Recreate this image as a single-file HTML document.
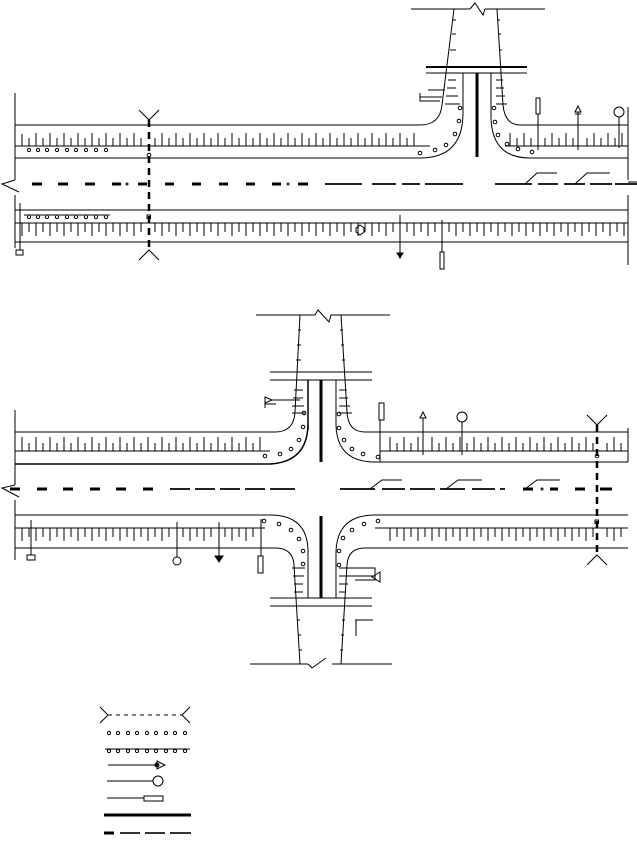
<!DOCTYPE html>
<html><head><meta charset="utf-8"><style>html,body{margin:0;padding:0;background:#fff}svg{display:block}</style></head>
<body>
<svg width="637" height="842" viewBox="0 0 637 842" xmlns="http://www.w3.org/2000/svg" fill="none" stroke="#000" stroke-width="1">
<defs>
<pattern id="tu" x="15" y="0" width="14" height="842" patternUnits="userSpaceOnUse">
<line x1="2" y1="0" x2="2" y2="842" stroke="#000"/>
</pattern>
</defs>
<style>.t{stroke:#000;stroke-width:1}</style>

<!-- ============ TOP SECTION ============ -->
<line x1="15" y1="93" x2="15" y2="180"/>
<path d="M15,180 L2,184 L19,192"/>
<line x1="15" y1="195" x2="15" y2="248"/>
<!-- upper road -->
<path d="M15,125 H420 Q440,125 442,105 L454,9"/>
<path d="M15,158 H420 Q462,158 463,115 V73"/>
<line x1="15" y1="146" x2="430" y2="146"/>
<path d="M628,125 H520 Q505,125 503,105 L497,9"/>
<path d="M491,73 V118 Q492,158 530,158 H628"/>
<line x1="505" y1="146" x2="628" y2="146"/>
<line x1="628" y1="107" x2="628" y2="180"/>
<line x1="628" y1="182" x2="637" y2="182"/>
<g id="ticksA" class="t"></g>
<!-- top road/intersection -->
<line x1="411" y1="9" x2="470" y2="9"/><path d="M470,9 L475,3 L483,15 L485,9 H545"/>
<line x1="426" y1="67" x2="527" y2="67" stroke-width="2"/>
<line x1="426" y1="73" x2="527" y2="73"/>
<line x1="477" y1="73" x2="477" y2="157" stroke-width="3"/>
<!-- hatch in tapers -->
<g stroke-width="1">
<line x1="453" y1="20" x2="456" y2="20"/><line x1="452" y1="34" x2="456" y2="34"/><line x1="450" y1="50" x2="456" y2="50"/>
<line x1="448" y1="80" x2="456" y2="80"/><line x1="447" y1="88" x2="456" y2="88"/><line x1="446" y1="96" x2="458" y2="96"/><line x1="445" y1="104" x2="460" y2="104"/>
<line x1="497" y1="20" x2="500" y2="20"/><line x1="498" y1="34" x2="501" y2="34"/><line x1="499" y1="50" x2="502" y2="50"/>
<line x1="496" y1="80" x2="503" y2="80"/><line x1="496" y1="88" x2="504" y2="88"/><line x1="496" y1="96" x2="505" y2="96"/><line x1="496" y1="104" x2="507" y2="104"/>
</g>
<path d="M420,93 V101 H440 M420,97 H442 M428,90 H445"/>
<!-- dots -->
<g stroke-width="1">
<circle cx="460" cy="108" r="1.8"/><circle cx="459" cy="121" r="1.8"/><circle cx="455" cy="134" r="1.8"/><circle cx="446" cy="145" r="1.8"/><circle cx="435" cy="150" r="1.8"/><circle cx="420" cy="153" r="1.8"/>
<circle cx="494" cy="108" r="1.8"/><circle cx="495" cy="122" r="1.8"/><circle cx="498" cy="135" r="1.8"/><circle cx="507" cy="144" r="1.8"/><circle cx="518" cy="149" r="1.8"/><circle cx="532" cy="152" r="1.8"/>
<circle cx="29" cy="150" r="1.6"/><circle cx="38" cy="150" r="1.6"/><circle cx="47" cy="150" r="1.6"/><circle cx="57" cy="150" r="1.6"/><circle cx="67" cy="150" r="1.6"/><circle cx="76" cy="150" r="1.6"/><circle cx="86" cy="150" r="1.6"/><circle cx="96" cy="150" r="1.6"/><circle cx="106" cy="150" r="1.6"/>
<circle cx="29" cy="217" r="1.6"/><circle cx="38" cy="217" r="1.6"/><circle cx="47" cy="217" r="1.6"/><circle cx="57" cy="217" r="1.6"/><circle cx="67" cy="217" r="1.6"/><circle cx="76" cy="217" r="1.6"/><circle cx="86" cy="217" r="1.6"/><circle cx="96" cy="217" r="1.6"/><circle cx="106" cy="217" r="1.6"/>
</g>
<line x1="24" y1="215" x2="110" y2="215" stroke-width="1.5" stroke="#555"/>
<!-- top signs -->
<rect x="536" y="98" width="4" height="16"/><line x1="538" y1="114" x2="538" y2="150"/>
<path d="M575,112 L578,106 L581,112 Z"/><line x1="578" y1="112" x2="578" y2="150"/><line x1="575" y1="114" x2="581" y2="114"/>
<circle cx="619" cy="112" r="5"/><line x1="619" y1="117" x2="619" y2="148"/>
<!-- centerline top -->
<g stroke-width="3">
<path d="M32,184 H42 M58,184 H68 M85,184 H95 M112,184 H121 M138,184 H147 M165,184 H174 M192,184 H201 M219,184 H228 M246,184 H255 M272,184 H281 M298,184 H308" />
</g>
<circle cx="127" cy="184" r="1"/><circle cx="288" cy="184" r="1"/>
<g stroke-width="2" stroke="#222">
<path d="M325,184 H362 M372,184 H396 M402,184 H420 M425,184 H463 M495,184 H532 M538,184 H558 M564,184 H585 M590,184 H612 M615,184 H637"/>
</g>
<path d="M525,184 L537,173 H557 M575,184 L587,173 H610"/>
<!-- lower road top section -->
<line x1="15" y1="210" x2="628" y2="210"/>
<line x1="15" y1="223" x2="628" y2="223"/>
<line x1="15" y1="242" x2="628" y2="242"/>
<line x1="628" y1="195" x2="628" y2="265"/>
<line x1="20" y1="203" x2="20" y2="250"/><rect x="16" y="250" width="7" height="5"/>
<!-- ticks upper road top -->
<path stroke-width="1" d="
M22,134V146 M29,138V146 M36,133V146 M43,138V146 M50,133V146 M57,138V146 M64,133V146 M71,138V146 M78,133V146 M85,138V146 M92,133V146 M99,138V146 M106,133V146 M113,138V146 M120,133V146 M127,138V146 M134,133V146 M141,138V146 M155,138V146 M162,133V146 M169,138V146 M176,133V146 M183,138V146 M190,133V146 M197,138V146 M204,133V146 M211,138V146 M218,133V146 M225,138V146 M232,133V146 M239,138V146 M246,133V146 M253,138V146 M260,133V146 M267,138V146 M274,133V146 M281,138V146 M288,133V146 M295,138V146 M302,133V146 M309,138V146 M316,133V146 M323,138V146 M330,133V146 M337,138V146 M344,133V146 M351,138V146 M358,133V146 M365,138V146 M372,133V146 M379,138V146 M386,133V146 M393,138V146 M400,133V146 M407,138V146 M414,133V146
M510,133V146 M517,138V146 M524,133V146 M531,138V146 M545,138V146 M552,133V146 M559,138V146 M566,133V146 M573,138V146 M587,138V146 M594,133V146 M601,138V146 M608,133V146 M615,138V146 M622,133V146"/>
<!-- ticks lower road top section -->
<path stroke-width="1" d="
M22,223V236 M29,223V232 M36,223V236 M43,223V232 M50,223V236 M57,223V232 M64,223V236 M71,223V232 M78,223V236 M85,223V232 M92,223V236 M99,223V232 M106,223V236 M113,223V232 M120,223V236 M127,223V232 M134,223V236 M141,223V232 M155,223V232 M162,223V236 M169,223V232 M176,223V236 M183,223V232 M190,223V236 M197,223V232 M204,223V236 M211,223V232 M218,223V236 M225,223V232 M232,223V236 M239,223V232 M246,223V236 M253,223V232 M260,223V236 M267,223V232 M274,223V236 M281,223V232 M288,223V236 M295,223V232 M302,223V236 M309,223V232 M316,223V236 M323,223V232 M330,223V236 M337,223V232 M344,223V236 M351,223V232 M358,223V236 M365,223V232 M372,223V236 M379,223V232 M386,223V236 M393,223V232 M407,223V232 M414,223V236 M421,223V232 M428,223V236 M435,223V232 M449,223V232 M456,223V236 M463,223V232 M470,223V236 M477,223V232 M484,223V236 M491,223V232 M498,223V236 M505,223V232 M512,223V236 M519,223V232 M526,223V236 M533,223V232 M540,223V236 M547,223V232 M554,223V236 M561,223V232 M568,223V236 M575,223V232 M582,223V236 M589,223V232 M596,223V236 M603,223V232 M610,223V236 M617,223V232 M624,223V236"/>
<!-- vertical dashed top -->
<line x1="149" y1="120" x2="149" y2="250" stroke-width="2.5" stroke-dasharray="7,5"/>
<path d="M139,110 L149,120 L159,110 M139,260 L149,250 L159,260"/>
<circle cx="149" cy="155" r="1.8"/><rect x="147" y="215" width="3.5" height="3.5"/>
<!-- lower signs top section -->
<path d="M356,228 L360,225 L364,228 L364,232 L360,235 L356,232 Z"/>
<line x1="400" y1="215" x2="400" y2="254"/><path d="M397,253 H403 L400,258 Z" fill="#000"/>
<line x1="442" y1="220" x2="442" y2="252"/><rect x="440" y="252" width="4" height="17"/>

<!-- ============ BOTTOM SECTION ============ -->
<line x1="256" y1="315" x2="315" y2="315"/><path d="M315,315 L318,310 L329,322 L331,315 H390"/>
<line x1="270" y1="372" x2="372" y2="372"/>
<line x1="270" y1="380" x2="372" y2="380"/>
<line x1="321" y1="380" x2="321" y2="462" stroke-width="3"/>
<line x1="308" y1="380" x2="308" y2="430" stroke-width="1.5"/>
<path d="M15,432 H275 Q294,432 295,412 L300,315"/>
<path d="M15,464 H270 Q307,462 308,425" stroke-width="1.5"/>
<line x1="15" y1="464" x2="270" y2="464" stroke-width="2" stroke="#444"/>
<line x1="15" y1="451" x2="270" y2="451"/>
<path d="M628,432 H365 Q348,432 347,412 L341,315"/>
<path d="M336,380 V425 Q337,462 375,462 H628"/>
<line x1="380" y1="451" x2="628" y2="451"/>
<line x1="628" y1="428" x2="628" y2="462"/>
<line x1="15" y1="410" x2="15" y2="485"/>
<path d="M15,485 L2,488 L19,497"/>
<line x1="15" y1="500" x2="15" y2="560"/>
<!-- lower -->
<path d="M15,548 H275 Q293,548 294,565 L300,664"/>
<path d="M15,515 H270 Q307,515 308,550 V598"/>
<line x1="15" y1="528" x2="265" y2="528"/>
<path d="M628,548 H365 Q348,548 347,565 L341,664"/>
<path d="M336,598 V552 Q337,515 375,515 H628"/>
<line x1="375" y1="528" x2="628" y2="528"/>
<line x1="321" y1="516" x2="321" y2="598" stroke-width="3"/>
<line x1="270" y1="598" x2="372" y2="598"/>
<line x1="270" y1="606" x2="372" y2="606"/>
<line x1="250" y1="664" x2="308" y2="664"/><path d="M308,664 L312,668 L326,658 M332,664 H392"/>
<path d="M355,620 H373 M356,620 V636"/>
<path d="M340,568 H375 V580 H355 M342,576 H375"/><path d="M372,577 L380,572 L380,582 Z"/>
<path d="M265,397 L272,400 L265,403 Z M265,408 V404 H276 M272,400 H300"/>
<!-- hatch bottom -->
<g>
<line x1="298" y1="330" x2="301" y2="330"/><line x1="297" y1="345" x2="301" y2="345"/><line x1="296" y1="360" x2="301" y2="360"/>
<line x1="294" y1="390" x2="303" y2="390"/><line x1="293" y1="398" x2="303" y2="398"/><line x1="292" y1="406" x2="304" y2="406"/><line x1="292" y1="413" x2="305" y2="413"/>
<line x1="340" y1="330" x2="343" y2="330"/><line x1="341" y1="345" x2="344" y2="345"/><line x1="342" y1="360" x2="345" y2="360"/>
<line x1="339" y1="390" x2="347" y2="390"/><line x1="339" y1="398" x2="348" y2="398"/><line x1="339" y1="406" x2="350" y2="406"/><line x1="339" y1="413" x2="352" y2="413"/>
<line x1="292" y1="568" x2="305" y2="568"/><line x1="293" y1="576" x2="304" y2="576"/><line x1="294" y1="584" x2="303" y2="584"/><line x1="294" y1="592" x2="303" y2="592"/>
<line x1="297" y1="620" x2="300" y2="620"/><line x1="298" y1="635" x2="301" y2="635"/><line x1="299" y1="650" x2="302" y2="650"/>
<line x1="339" y1="568" x2="352" y2="568"/><line x1="339" y1="576" x2="350" y2="576"/><line x1="339" y1="584" x2="348" y2="584"/><line x1="339" y1="592" x2="346" y2="592"/>
<line x1="342" y1="620" x2="345" y2="620"/><line x1="341" y1="635" x2="344" y2="635"/><line x1="340" y1="650" x2="343" y2="650"/>
</g>
<g>
<circle cx="304" cy="413" r="1.8"/><circle cx="303" cy="427" r="1.8"/><circle cx="299" cy="440" r="1.8"/><circle cx="291" cy="449" r="1.8"/><circle cx="280" cy="454" r="1.8"/><circle cx="265" cy="456" r="1.8"/>
<circle cx="339" cy="414" r="1.8"/><circle cx="339" cy="428" r="1.8"/><circle cx="344" cy="440" r="1.8"/><circle cx="352" cy="449" r="1.8"/><circle cx="363" cy="454" r="1.8"/><circle cx="378" cy="457" r="1.8"/>
<circle cx="264" cy="521" r="1.8"/><circle cx="279" cy="524" r="1.8"/><circle cx="291" cy="530" r="1.8"/><circle cx="299" cy="539" r="1.8"/><circle cx="303" cy="551" r="1.8"/><circle cx="303" cy="564" r="1.8"/>
<circle cx="378" cy="521" r="1.8"/><circle cx="364" cy="524" r="1.8"/><circle cx="352" cy="530" r="1.8"/><circle cx="343" cy="538" r="1.8"/><circle cx="339" cy="551" r="1.8"/><circle cx="339" cy="565" r="1.8"/>
</g>
<!-- ticks bottom upper -->
<path d="
M22,437V451 M29,443V451 M36,437V451 M43,443V451 M50,437V451 M57,443V451 M64,437V451 M71,443V451 M78,437V451 M85,443V451 M92,437V451 M99,443V451 M106,437V451 M113,443V451 M120,437V451 M127,443V451 M134,437V451 M141,443V451 M148,437V451 M155,443V451 M162,437V451 M169,443V451 M176,437V451 M183,443V451 M190,437V451 M197,443V451 M204,437V451 M211,443V451 M218,437V451 M225,443V451 M232,437V451 M239,443V451 M246,437V451 M253,443V451 M260,437V451
M390,437V451 M397,443V451 M404,437V451 M411,443V451 M418,437V451 M432,437V451 M439,443V451 M446,437V451 M453,443V451 M460,437V451 M467,443V451 M474,437V451 M481,443V451 M488,437V451 M495,443V451 M502,437V451 M509,443V451 M516,437V451 M523,443V451 M530,437V451 M537,443V451 M544,437V451 M551,443V451 M558,437V451 M565,443V451 M572,437V451 M579,443V451 M586,437V451 M593,443V451 M607,443V451 M614,437V451 M621,443V451"/>
<path d="
M22,528V541 M29,528V537 M36,528V541 M43,528V537 M50,528V541 M57,528V537 M64,528V541 M71,528V537 M78,528V541 M85,528V537 M92,528V541 M99,528V537 M106,528V541 M113,528V537 M120,528V541 M127,528V537 M134,528V541 M141,528V537 M148,528V541 M155,528V537 M162,528V541 M169,528V537 M183,528V537 M190,528V541 M197,528V537 M204,528V541 M211,528V537 M225,528V537 M232,528V541 M239,528V537 M246,528V541 M253,528V537
M390,528V541 M397,528V537 M404,528V541 M411,528V537 M418,528V541 M425,528V537 M432,528V541 M439,528V537 M446,528V541 M453,528V537 M460,528V541 M467,528V537 M474,528V541 M481,528V537 M488,528V541 M495,528V537 M502,528V541 M509,528V537 M516,528V541 M523,528V537 M530,528V541 M537,528V537 M544,528V541 M551,528V537 M558,528V541 M565,528V537 M572,528V541 M579,528V537 M586,528V541 M593,528V537 M607,528V537 M614,528V541 M621,528V537"/>
<!-- centerline bottom -->
<path stroke-width="3" d="M10,489 H20 M37,489 H47 M63,489 H73 M90,489 H100 M116,489 H126 M143,489 H153"/>
<path stroke-width="2" stroke="#222" d="M170,489 H190 M195,489 H215 M220,489 H240 M245,489 H265 M270,489 H295 M340,489 H375 M382,489 H405 M410,489 H435 M440,489 H465 M472,489 H495 M500,489 H505"/>
<path stroke-width="3" d="M523,489 H533 M550,489 H558 M575,489 H585 M600,489 H612"/>
<circle cx="542" cy="489" r="1"/>
<path d="M370,489 L382,480 H402 M446,489 L458,480 H482 M525,489 L537,480 H560"/>
<line x1="380" y1="420" x2="380" y2="462"/><rect x="379" y="403" width="5" height="17"/>
<path d="M420,418 L423,412 L426,418 Z"/><line x1="423" y1="418" x2="423" y2="455"/>
<circle cx="462" cy="417" r="5"/><line x1="462" y1="422" x2="462" y2="455"/>
<line x1="31" y1="520" x2="31" y2="555"/><rect x="27" y="555" width="8" height="5"/>
<line x1="177" y1="522" x2="177" y2="557"/><circle cx="177" cy="561" r="4"/>
<line x1="219" y1="522" x2="219" y2="557"/><path d="M215,556 H223 L219,562 Z" fill="#000"/>
<line x1="261" y1="519" x2="261" y2="556"/><rect x="258" y="556" width="5" height="17"/>
<!-- vertical dashed bottom -->
<line x1="597" y1="425" x2="597" y2="555" stroke-width="2.5" stroke-dasharray="7,5"/>
<path d="M587,415 L597,425 L607,415 M587,565 L597,555 L607,565"/>
<circle cx="597" cy="456" r="1.8"/><rect x="595" y="520" width="3.5" height="3.5"/>

<!-- ============ LEGEND ============ -->
<path d="M100,707 L108,715 L100,723 M108,715 H182 M190,707 L182,715 L190,723" stroke-dasharray="none"/>
<line x1="108" y1="715" x2="182" y2="715" stroke="#fff" stroke-width="2" stroke-dasharray="4,4" stroke-dashoffset="-4"/>
<g>
<circle cx="109" cy="733" r="1.6"/><circle cx="118" cy="733" r="1.6"/><circle cx="128" cy="733" r="1.6"/><circle cx="137" cy="733" r="1.6"/><circle cx="147" cy="733" r="1.6"/><circle cx="156" cy="733" r="1.6"/><circle cx="166" cy="733" r="1.6"/><circle cx="175" cy="733" r="1.6"/><circle cx="185" cy="733" r="1.6"/>
<line x1="105" y1="749" x2="190" y2="749"/>
<circle cx="109" cy="751" r="1.6"/><circle cx="118" cy="751" r="1.6"/><circle cx="128" cy="751" r="1.6"/><circle cx="137" cy="751" r="1.6"/><circle cx="147" cy="751" r="1.6"/><circle cx="156" cy="751" r="1.6"/><circle cx="166" cy="751" r="1.6"/><circle cx="175" cy="751" r="1.6"/><circle cx="185" cy="751" r="1.6"/>
</g>
<line x1="108" y1="765" x2="158" y2="765"/><path d="M157,761 L165,765 L157,769 Z"/><circle cx="157" cy="765" r="2" fill="#000"/>
<line x1="107" y1="781" x2="153" y2="781"/><circle cx="158" cy="781" r="5"/>
<line x1="107" y1="798" x2="144" y2="798"/><rect x="144" y="796" width="19" height="5"/>
<line x1="104" y1="815" x2="191" y2="815" stroke-width="3"/>
<path d="M104,833 H114" stroke-width="3"/>
<path d="M120,833 H140 M145,833 H165 M170,833 H191" stroke-width="2" stroke="#333"/>
</svg>
</body></html>
